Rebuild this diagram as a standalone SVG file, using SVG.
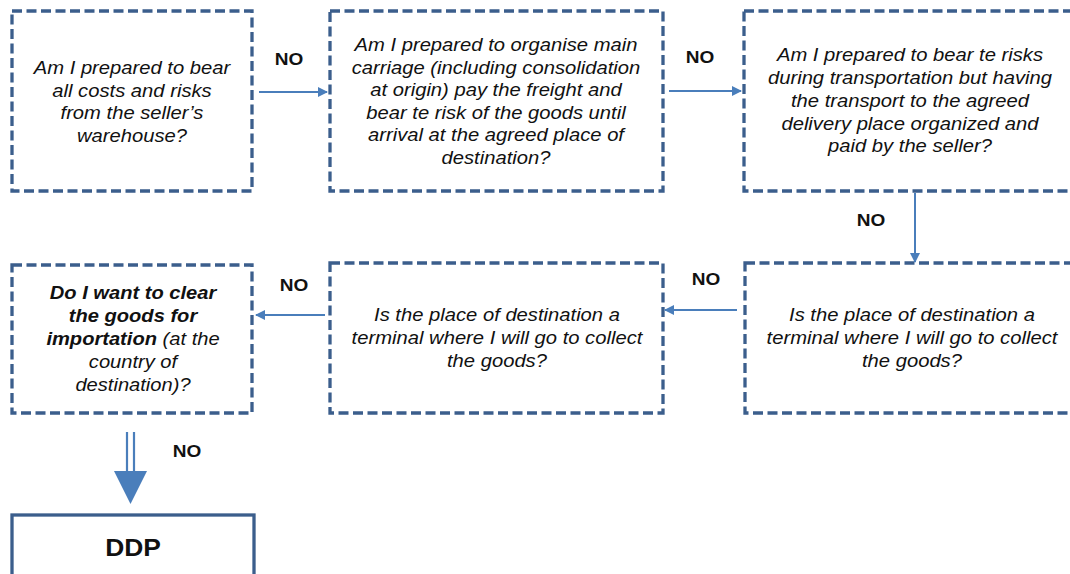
<svg xmlns="http://www.w3.org/2000/svg" width="1070" height="574" viewBox="0 0 1070 574">
  <defs>
    <marker id="arrow" viewBox="0 0 10 10" refX="9" refY="5" markerWidth="10" markerHeight="10" markerUnits="userSpaceOnUse" orient="auto">
      <path d="M0,0 L10,5 L0,10 z" fill="#4A7EBB"/>
    </marker>
    <style>
      .box { fill: #ffffff; stroke: #3B5E8C; stroke-width: 3.3; stroke-dasharray: 10 4.5; }
      .solid { fill: #ffffff; stroke: #3B5E8C; stroke-width: 3.3; }
      .q { font-family: "Liberation Sans", Arial, sans-serif; font-size: 17.5px; font-style: italic; fill: #111; text-anchor: middle; }
      .b { font-weight: bold; }
      .no { font-family: "Liberation Sans", Arial, sans-serif; font-size: 17px; font-weight: bold; fill: #111; text-anchor: middle; }
      .link { stroke: #4A7EBB; stroke-width: 2; fill: none; marker-end: url(#arrow); }
    </style>
  </defs>
  <rect width="1070" height="574" fill="#ffffff"/>

  <!-- question texts are set slightly wide: horizontal scale about each box centre -->
  <g id="q-warehouse">
    <rect class="box" x="12" y="11" width="240" height="180"/>
    <text class="q" transform="matrix(1.155 0 0 1 -20.46 0)"><tspan x="132" y="74">Am I prepared to bear</tspan><tspan x="132" y="97">all costs and risks</tspan><tspan x="132" y="119">from the seller’s</tspan><tspan x="132" y="142">warehouse?</tspan></text>
  </g>

  <g id="q-main-carriage">
    <rect class="box" x="330" y="11" width="333" height="180"/>
    <text class="q" transform="matrix(1.155 0 0 1 -76.88 0)"><tspan x="496" y="51">Am I prepared to organise main</tspan><tspan x="496" y="74">carriage (including consolidation</tspan><tspan x="496" y="96">at origin) pay the freight and</tspan><tspan x="496" y="119">bear te risk of the goods until</tspan><tspan x="496" y="141">arrival at the agreed place of</tspan><tspan x="496" y="164">destination?</tspan></text>
  </g>

  <g id="q-transport-risks">
    <rect class="box" x="744" y="11" width="340" height="180"/>
    <text class="q" transform="matrix(1.155 0 0 1 -141.05 0)"><tspan x="910" y="61">Am I prepared to bear te risks</tspan><tspan x="910" y="84">during transportation but having</tspan><tspan x="910" y="107">the transport to the agreed</tspan><tspan x="910" y="130">delivery place organized and</tspan><tspan x="910" y="152">paid by the seller?</tspan></text>
  </g>

  <g id="q-terminal-right">
    <rect class="box" x="745" y="263" width="340" height="150"/>
    <text class="q" transform="matrix(1.155 0 0 1 -141.36 0)"><tspan x="912" y="321">Is the place of destination a</tspan><tspan x="912" y="344">terminal where I will go to collect</tspan><tspan x="912" y="367">the goods?</tspan></text>
  </g>

  <g id="q-terminal-middle">
    <rect class="box" x="330" y="263" width="333" height="150"/>
    <text class="q" transform="matrix(1.155 0 0 1 -77.04 0)"><tspan x="497" y="321">Is the place of destination a</tspan><tspan x="497" y="344">terminal where I will go to collect</tspan><tspan x="497" y="367">the goods?</tspan></text>
  </g>

  <g id="q-import-clearance">
    <rect class="box" x="12" y="265" width="240" height="148"/>
    <text class="q" transform="matrix(1.15 0 0 1 -19.95 0)"><tspan x="133" y="299" class="b">Do I want to clear</tspan><tspan x="133" y="322" class="b">the goods for</tspan><tspan x="133" y="345"><tspan class="b">importation</tspan> (at the</tspan><tspan x="133" y="368">country of</tspan><tspan x="133" y="391">destination)?</tspan></text>
  </g>

  <g id="ddp">
    <rect class="solid" x="12" y="515" width="242" height="80"/>
    <text x="133" y="556" transform="matrix(1.1 0 0 1 -13.3 0)" font-family="'Liberation Sans', Arial, sans-serif" font-size="24" font-weight="bold" fill="#111" text-anchor="middle">DDP</text>
  </g>

  <g id="connectors">
    <line class="link" x1="259" y1="92" x2="327" y2="92"/>
    <line class="link" x1="669" y1="91" x2="741" y2="91"/>
    <line class="link" x1="915" y1="193" x2="915" y2="262"/>
    <line class="link" x1="737" y1="310" x2="665" y2="310"/>
    <line class="link" x1="325" y1="315" x2="256" y2="315"/>
    <!-- double-shafted block arrow down to DDP -->
    <line x1="127" y1="432" x2="127" y2="472" stroke="#4A7EBB" stroke-width="2.2"/>
    <line x1="134" y1="432" x2="134" y2="472" stroke="#4A7EBB" stroke-width="2.2"/>
    <polygon points="114,471 147,471 130.5,504" fill="#4A7EBB"/>
    <text class="no" x="289" y="65" transform="matrix(1.12 0 0 1 -34.68 0)">NO</text>
    <text class="no" x="700" y="63" transform="matrix(1.12 0 0 1 -84 0)">NO</text>
    <text class="no" x="871" y="226" transform="matrix(1.12 0 0 1 -104.52 0)">NO</text>
    <text class="no" x="706" y="285" transform="matrix(1.12 0 0 1 -84.72 0)">NO</text>
    <text class="no" x="294" y="291" transform="matrix(1.12 0 0 1 -35.28 0)">NO</text>
    <text class="no" x="187" y="457" transform="matrix(1.12 0 0 1 -22.44 0)">NO</text>
  </g>
</svg>
